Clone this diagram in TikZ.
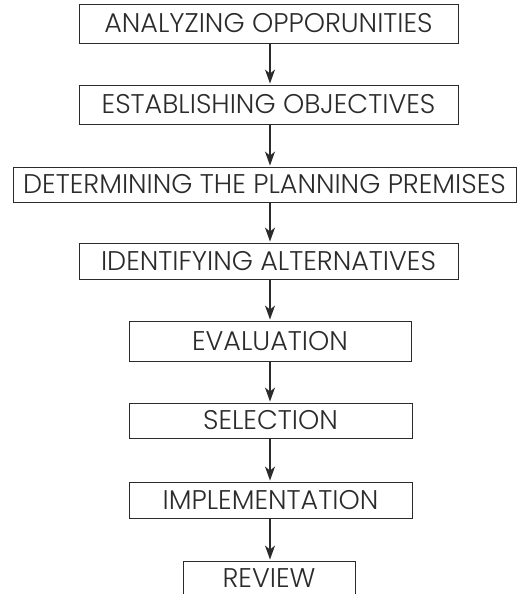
\documentclass[tikz,border=0pt]{standalone}
\usepackage{fontspec}
\setmainfont{Poppins Light}
\usetikzlibrary{arrows.meta}
\definecolor{ink}{HTML}{2B2B2B}
\tikzset{
  stepbox/.style={draw=ink, line width=0.9pt, rectangle, inner sep=0pt, text=ink,
    font=\fontsize{27}{28}\selectfont},
  flow/.style={draw=ink, line width=1.2pt, -{Stealth[length=14pt,width=10pt,inset=4pt]}, shorten >=1pt}
}
\begin{document}
\begin{tikzpicture}[x=1pt,y=-1pt]
\useasboundingbox (0,0) rectangle (519,594);
\node[stepbox, minimum width=379pt, minimum height=39pt] (b1) at (268.5,23.5) {ANALYZING OPPORUNITIES};
\node[stepbox, minimum width=379pt, minimum height=39pt] (b2) at (268.5,104.5) {ESTABLISHING OBJECTIVES};
\node[stepbox, minimum width=503pt, minimum height=35pt] (b3) at (264.5,184.5) {DETERMINING THE PLANNING PREMISES};
\node[stepbox, minimum width=379pt, minimum height=36pt] (b4) at (268.5,261) {IDENTIFYING ALTERNATIVES};
\node[stepbox, minimum width=282pt, minimum height=40pt] (b5) at (270,341) {EVALUATION};
\node[stepbox, minimum width=283pt, minimum height=35pt] (b6) at (270.5,420.5) {SELECTION};
\node[stepbox, minimum width=283pt, minimum height=36pt] (b7) at (270.5,500) {IMPLEMENTATION};
\node[stepbox, minimum width=172pt, minimum height=34pt, text depth=0pt, text height=19pt] (b8) at (269,578) {REVIEW};
\coordinate (ax) at (270,0);
\draw[flow] (b1.south -| ax) -- (b2.north -| ax);
\draw[flow] (b2.south -| ax) -- (b3.north -| ax);
\draw[flow] (b3.south -| ax) -- (b4.north -| ax);
\draw[flow] (b4.south -| ax) -- (b5.north -| ax);
\draw[flow] (b5.south -| ax) -- (b6.north -| ax);
\draw[flow] (b6.south -| ax) -- (b7.north -| ax);
\draw[flow] (b7.south -| ax) -- (b8.north -| ax);
\end{tikzpicture}
\end{document}
